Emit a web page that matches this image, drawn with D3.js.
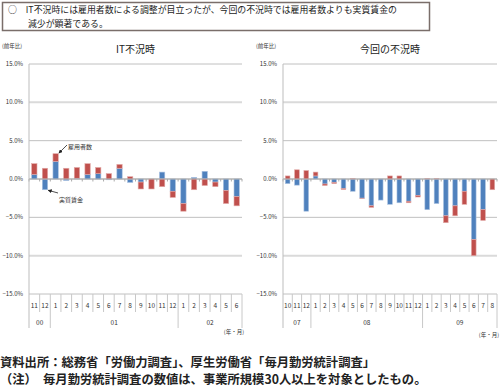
<!DOCTYPE html>
<meta charset="utf-8">
<title>IT不況時と今回の不況時</title>
<style>
    body { margin: 0; background: #fff; }
    svg { font-family: "Noto Sans CJK JP", "Noto Sans", sans-serif; display: block; }
    .grid line { stroke: #c4c4c4; stroke-width: 1px; }
    .tick-label { font-size: 6px; fill: #333; }
    .cat { font-size: 6.5px; fill: #333; }
    .sep { stroke: #c8c8c8; stroke-width: 1px; }
</style>
<body>
<svg width="500" height="389"></svg>
<script src="https://cdn.jsdelivr.net/npm/d3@7"></script>
<script>

// IT不況時 (2000/11 - 2002/6)
var itMonths = ["11","12","1","2","3","4","5","6","7","8","9","10","11","12","1","2","3","4","5","6"];
var itYears = [{label:"00", n:2}, {label:"01", n:12}, {label:"02", n:6}];
var itWage = [0.6,-1.4,2.3,-0.2,0.1,0.6,0.7,-0.1,1.4,-0.45,-0.4,0.0,0.9,-1.6,-3.2,0.2,1.0,-0.4,-1.5,-2.3];
var itEmp  = [1.4,1.4,1.0,1.4,1.4,1.4,0.8,0.7,0.5,0.3,-0.9,-1.3,-1.0,-0.8,-1.0,-1.4,-0.85,-0.6,-1.7,-1.2];

// 今回の不況時 (2007/10 - 2009/8)
var nowMonths = ["10","11","12","1","2","3","4","5","6","7","8","9","10","11","12","1","2","3","4","5","6","7","8"];
var nowYears = [{label:"07", n:3}, {label:"08", n:12}, {label:"09", n:8}];
var nowWage = [-0.6,-0.8,-4.2,0.4,-0.65,-0.45,-1.25,-1.6,-2.5,-3.5,-2.75,-3.3,-3.1,-2.9,-2.15,-4.0,-3.2,-4.8,-3.5,-1.6,-7.9,-4.0,0.0];
var nowEmp  = [0.4,1.2,1.1,0.5,-0.2,-0.15,-0.12,0.05,-0.05,-0.2,0.0,0.4,0.4,-0.2,-0.2,0.05,0.05,-0.9,-1.3,-1.7,-2.1,-1.4,-1.4];

var yTicks = [15,10,5,0,-5,-10,-15];

var svg = d3.select("svg");

// top message box
svg.append("rect")
    .attr("x", 2.5).attr("y", 2.5).attr("width", 427).attr("height", 28)
    .attr("fill", "#fff").attr("stroke", "#7a6e6a").attr("stroke-width", 1.5);
svg.append("text").attr("x", 8).attr("y", 13.2).attr("font-size", 8.9).attr("fill", "#222")
    .text("○　IT不況時には雇用者数による調整が目立ったが、今回の不況時では雇用者数よりも実質賃金の");
svg.append("text").attr("x", 28).attr("y", 26.6).attr("font-size", 8.9).attr("fill", "#222")
    .text("減少が顕著である。");

function drawChart(opt) {
    var g = svg.append("g");
    var x = d3.scaleBand().domain(d3.range(opt.months.length)).range([opt.x0, opt.x1]).paddingInner(0.5).paddingOuter(0.25);
    var y = d3.scaleLinear().domain([-15, 15]).range([294, 64]);

    // gridlines
    var grid = g.append("g").attr("class", "grid");
    grid.selectAll("line").data(yTicks).enter().append("line")
        .attr("x1", opt.x0).attr("x2", opt.x1)
        .attr("y1", function(d){ return y(d); }).attr("y2", function(d){ return y(d); })
        .style("stroke", function(d){ return Math.abs(d) == 10 ? "#dadada" : "#c0c0c0"; })
        .style("stroke-width", function(d){ return Math.abs(d) == 10 ? 2 : 1; });

    // y labels
    g.selectAll(".tick-label").data(yTicks).enter().append("text")
        .attr("class", "tick-label")
        .attr("x", opt.x0 - 6).attr("y", function(d){ return y(d) + 2; })
        .attr("text-anchor", "end")
        .text(function(d){ return d3.format(".1f")(d) + "%"; });

    g.append("text").attr("x", opt.x0 - 27).attr("y", 48).attr("font-size", 5.5).attr("fill", "#333").text("(前年比)");
    g.append("text").attr("x", (opt.x0 + opt.x1) / 2).attr("y", 53).attr("font-size", 10)
        .attr("text-anchor", "middle").attr("fill", "#222").text(opt.title);

    // stacked bars, diverging
    var rows = opt.months.map(function(m, i){ return {i: i, wage: opt.wage[i], emp: opt.emp[i]}; });
    var series = d3.stack().keys(["wage", "emp"]).offset(d3.stackOffsetDiverging)(rows);
    var colors = {wage: "#4f81bd", emp: "#c0504d"};
    var strokes = {wage: "#a9c1e0", emp: "#e2a8a6"};
    series.forEach(function(s) {
        g.append("g").selectAll("rect").data(s).enter().append("rect")
            .attr("x", function(d){ return x(d.data.i); })
            .attr("width", x.bandwidth())
            .attr("y", function(d){ return y(Math.max(d[0], d[1])); })
            .attr("height", function(d){ return Math.abs(y(d[0]) - y(d[1])); })
            .attr("fill", colors[s.key])
            .attr("stroke", strokes[s.key]).attr("stroke-width", 0.6);
    });

    // zero axis with ticks
    var step = (opt.x1 - opt.x0) / opt.months.length;
    g.append("line").attr("x1", opt.x0).attr("x2", opt.x1).attr("y1", y(0)).attr("y2", y(0))
        .attr("stroke", "#aaa").attr("stroke-width", 1);
    g.selectAll(".ztick").data(d3.range(opt.months.length + 1)).enter().append("line")
        .attr("x1", function(d){ return opt.x0 + d * step; }).attr("x2", function(d){ return opt.x0 + d * step; })
        .attr("y1", y(0)).attr("y2", y(0) + 2.5).attr("stroke", "#aaa");

    // left axis
    g.append("line").attr("x1", opt.x0).attr("x2", opt.x0).attr("y1", y(15)).attr("y2", 328)
        .attr("stroke", "#bdbdbd");

    // category table
    var yearStarts = [];
    var acc = 0;
    opt.years.forEach(function(yy){ yearStarts.push(acc); acc += yy.n; });
    g.selectAll(".sep").data(d3.range(1, opt.months.length + 1)).enter().append("line")
        .attr("class", "sep")
        .attr("x1", function(d){ return opt.x0 + d * step; }).attr("x2", function(d){ return opt.x0 + d * step; })
        .attr("y1", y(-15)).attr("y2", function(d){ return (yearStarts.indexOf(d) >= 0 || d == opt.months.length) ? 328 : 312; });
    g.selectAll(".cat").data(opt.months).enter().append("text")
        .attr("class", "cat")
        .attr("x", function(d, i){ return opt.x0 + (i + 0.5) * step; }).attr("y", 307.5)
        .attr("text-anchor", "middle").text(function(d){ return d; });
    g.selectAll(".yr").data(opt.years).enter().append("text")
        .attr("class", "cat")
        .attr("x", function(d, i){ return opt.x0 + (yearStarts[i] + d.n / 2) * step; }).attr("y", 325)
        .attr("text-anchor", "middle").text(function(d){ return d.label; });
    g.append("text").attr("x", opt.x1 + 2).attr("y", opt.unitY).attr("font-size", 5.5)
        .attr("text-anchor", "end").attr("fill", "#333").text("(年・月)");
    return {x: x, y: y, g: g};
}

var left = drawChart({x0: 29, x1: 242, months: itMonths, years: itYears, wage: itWage, emp: itEmp, title: "IT不況時", unitY: 334});
drawChart({x0: 283, x1: 497, months: nowMonths, years: nowYears, wage: nowWage, emp: nowEmp, title: "今回の不況時", unitY: 337});

// annotations on left chart
svg.append("defs").append("marker").attr("id", "arr").attr("viewBox", "0 0 10 10")
    .attr("refX", 9).attr("refY", 5).attr("markerWidth", 5).attr("markerHeight", 5).attr("orient", "auto")
    .append("path").attr("d", "M0,0L10,5L0,10z").attr("fill", "#222");
var lx = left.x, ly = left.y;
svg.append("line")
    .attr("x1", 67).attr("y1", 145)
    .attr("x2", lx(2) + lx.bandwidth() + 0.5).attr("y2", ly(itWage[2] + itEmp[2]) - 0.5)
    .attr("stroke", "#222").attr("stroke-width", 0.8).attr("marker-end", "url(#arr)");
svg.append("text").attr("x", 68).attr("y", 149).attr("font-size", 6).attr("fill", "#333").text("雇用者数");
svg.append("line")
    .attr("x1", 58).attr("y1", 193)
    .attr("x2", lx(1) + lx.bandwidth() + 0.5).attr("y2", ly(itWage[1]) + 0.5)
    .attr("stroke", "#222").attr("stroke-width", 0.8).attr("marker-end", "url(#arr)");
svg.append("text").attr("x", 59).attr("y", 202).attr("font-size", 6).attr("fill", "#333").text("実質賃金");

// footer
svg.append("text").attr("x", 0).attr("y", 367).attr("font-size", 12.3).attr("font-weight", "bold").attr("fill", "#222")
    .text("資料出所：総務省「労働力調査」、厚生労働省「毎月勤労統計調査」");
svg.append("text").attr("x", 0).attr("y", 384).attr("font-size", 12.3).attr("font-weight", "bold").attr("fill", "#222")
    .text("（注）　毎月勤労統計調査の数値は、事業所規模30人以上を対象としたもの。");
</script>
</body>
